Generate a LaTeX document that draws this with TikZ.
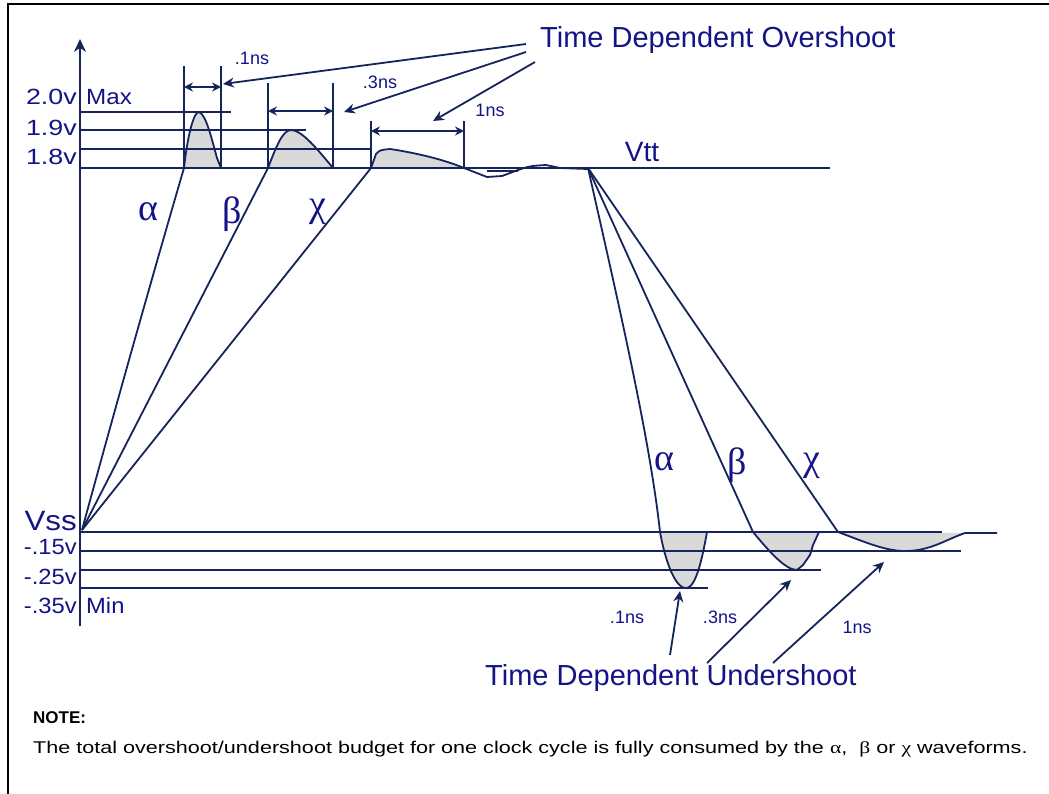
\documentclass[tikz,border=0pt]{standalone}
\usepackage{fontspec}
\usepackage{graphicx}
\setmainfont{Liberation Sans}
\newfontfamily\grk{Liberation Serif}
\usetikzlibrary{arrows.meta}
\definecolor{ln}{RGB}{22,36,92}
\definecolor{tx}{RGB}{20,20,135}
\definecolor{sh}{RGB}{217,217,217}
\newcommand{\hstretch}[2]{\scalebox{#1}[1]{#2}}
\begin{document}
\begin{tikzpicture}[x=1pt,y=-1pt,
  wave/.style={draw=ln,line width=1.8pt,line join=round},
  lvl/.style={draw=ln,line width=1.8pt},
  shade/.style={fill=sh,draw=none},
  dimarrow/.style={draw=ln,line width=1.8pt,{Stealth[length=9pt,width=9pt]}-{Stealth[length=9pt,width=9pt]}},
  ptr/.style={draw=ln,line width=1.8pt,-{Stealth[length=11pt,width=10pt]}},
  axisline/.style={draw=ln,line width=1.8pt,-{Stealth[length=13pt,width=12pt]}},
  lab/.style={text=tx,font=\fontsize{22}{24}\selectfont,inner sep=0pt},
  small/.style={text=tx,font=\fontsize{18}{20}\selectfont,inner sep=0pt},
  big/.style={text=tx,font=\fontsize{29}{31}\selectfont,inner sep=0pt},
  greek/.style={text=tx,font=\fontsize{38}{40}\selectfont\grk,inner sep=0pt},
  note/.style={text=black,font=\fontsize{17}{19}\selectfont,inner sep=0pt,anchor=west}
]
\useasboundingbox (0,0) rectangle (1049,793);
\fill[white] (0,0) rectangle (1049,793);
% frame
\draw[black,line width=2.5pt] (8,800) -- (8,4) -- (1060,4);

% shaded areas
\path[shade] (184,168) .. controls (187,140) and (193,112) .. (199,112) .. controls (206,114) and (212,140) .. (217,158) -- (221,168) -- cycle;
\path[shade] (268,168) .. controls (275,150) and (282,130) .. (291,130) .. controls (302,130) and (318,150) .. (333,168) -- cycle;
\path[shade] (371,168) -- (376,154) .. controls (380,150) .. (390,149) .. controls (410,152) and (440,158) .. (464,168) -- cycle;
\path[shade] (660,532) .. controls (667,570) and (678,590) .. (687,588) .. controls (696,586) and (702,560) .. (707,532) -- cycle;
\path[shade] (753,532) .. controls (768,550) and (785,570) .. (797,570) -- (803,565) -- (810,555) -- (813,545) -- (819,532) -- cycle;
\path[shade] (838,532) .. controls (865,542) and (885,551) .. (905,551) .. controls (930,551) and (945,540) .. (965,533) -- cycle;

% level lines
\draw[lvl] (80,112) -- (231,112);
\draw[lvl] (80,130) -- (306,130);
\draw[lvl] (80,149) -- (370,149);
\draw[lvl] (80,168) -- (830,168);
\draw[lvl] (80,532) -- (942,532);
\draw[lvl] (80,551) -- (961,551);
\draw[lvl] (80,570) -- (821,570);
\draw[lvl] (80,588) -- (708,588);

% axis
\coordinate (axb) at (80,626);
\coordinate (axt) at (80,39);
\draw[axisline] (axb) -- (axt);

% bars
\draw[lvl] (184,66) -- (184,168);
\draw[lvl] (221,66) -- (221,168);
\draw[lvl] (268,83) -- (268,168);
\draw[lvl] (333,83) -- (333,168);
\draw[lvl] (371,121) -- (371,168);
\draw[lvl] (464,121) -- (464,168);

% dimension arrows
\coordinate (a1) at (184,87); \coordinate (a2) at (221,87);
\coordinate (b1) at (268,111); \coordinate (b2) at (333,111);
\coordinate (c1) at (371,131); \coordinate (c2) at (464,131);
\draw[dimarrow] (a1) -- (a2);
\draw[dimarrow] (b1) -- (b2);
\draw[dimarrow] (c1) -- (c2);

% rising waveforms
\coordinate (O) at (82,530);
\draw[wave] (O) .. controls (120,390) and (160,250) .. (184,168) .. controls (187,140) and (193,112) .. (199,112) .. controls (206,114) and (212,140) .. (217,158) -- (221,168);
\draw[wave] (O) -- (268,168) .. controls (275,150) and (282,130) .. (291,130) .. controls (302,130) and (318,150) .. (333,168);
\draw[wave] (O) -- (371,168) -- (376,154) .. controls (380,150) .. (390,149) .. controls (410,152) and (440,158) .. (464,168)
  -- (487,177) -- (502,176) -- (518,170) .. controls (530,166) .. (546,165) -- (560,168) -- (588,169);
\draw[wave] (487,171) -- (518,171);

% falling waveforms
\coordinate (P) at (588,168);
\draw[wave] (P) .. controls (620,310) and (650,440) .. (660,532) .. controls (667,570) and (678,590) .. (687,588) .. controls (696,586) and (702,560) .. (707,532);
\draw[wave] (P) -- (753,532) .. controls (768,550) and (785,570) .. (797,570) -- (803,565) -- (810,555) -- (813,545) -- (819,532);
\draw[wave] (P) -- (838,532) .. controls (865,542) and (885,551) .. (905,551) .. controls (930,551) and (945,540) .. (965,533) -- (997,533);

% axis labels
\node[lab,anchor=east] (l20) at (77,97) {\hstretch{1.22}{2.0v}};
\node[lab,anchor=west] (lmax) at (86,97) {\hstretch{1.1}{Max}};
\node[lab,anchor=east] (l19) at (77,128) {\hstretch{1.22}{1.9v}};
\node[lab,anchor=east] (l18) at (77,157) {\hstretch{1.22}{1.8v}};
\node[lab,anchor=east,font=\fontsize{28}{30}\selectfont] (lvss) at (77,521) {\hstretch{1.12}{Vss}};
\node[lab,anchor=east] (l15) at (77,547) {\hstretch{1.08}{-.15v}};
\node[lab,anchor=east] (l25) at (77,577) {\hstretch{1.08}{-.25v}};
\node[lab,anchor=east] (l35) at (77,606) {\hstretch{1.08}{-.35v}};
\node[lab,anchor=west] (lmin) at (86,606) {\hstretch{1.08}{Min}};
\node[lab,font=\fontsize{28}{30}\selectfont] (vtt) at (642,152) {Vtt};

% greek labels
\node[greek] (ga1) at (148,212) {α};
\node[greek] (gb1) at (232,214) {β};
\node[greek] (gc1) at (318,212) {χ};
\node[greek] (ga2) at (664,462) {α};
\node[greek] (gb2) at (737,465) {β};
\node[greek] (gc2) at (812,466) {χ};

% overshoot labels
\node[small] (t1) at (252,58) {.1ns};
\node[small] (t2) at (380,82) {.3ns};
\node[small] (t3) at (490,110) {1ns};
\node[big,anchor=west] (ovs) at (540,40) {Time Dependent Overshoot};
\coordinate (os1) at (526,44); \coordinate (oe1) at (223,84);
\coordinate (os2) at (526,52); \coordinate (oe2) at (344,112);
\coordinate (os3) at (535,62); \coordinate (oe3) at (433,121);
\draw[ptr] (os1) -- (oe1);
\draw[ptr] (os2) -- (oe2);
\draw[ptr] (os3) -- (oe3);

% undershoot labels
\node[small] (u1) at (627,617) {.1ns};
\node[small] (u2) at (720,617) {.3ns};
\node[small] (u3) at (857,627) {1ns};
\node[big,anchor=west] (uns) at (485,678) {Time Dependent Undershoot};
\coordinate (us1) at (670,655); \coordinate (ue1) at (680,591);
\coordinate (us2) at (707,663); \coordinate (ue2) at (791,580);
\coordinate (us3) at (773,663); \coordinate (ue3) at (884,562);
\draw[ptr] (us1) -- (ue1);
\draw[ptr] (us2) -- (ue2);
\draw[ptr] (us3) -- (ue3);

% note
\node[note,font=\fontsize{17}{19}\selectfont\bfseries] (nt) at (33,718) {NOTE:};
\node[note] (ntxt) at (33,749) {\hstretch{1.27}{The total overshoot/undershoot budget for one clock cycle is fully consumed by the {\grk α},\ \ {\grk β} or {\grk χ} waveforms.}};
\end{tikzpicture}
\end{document}
